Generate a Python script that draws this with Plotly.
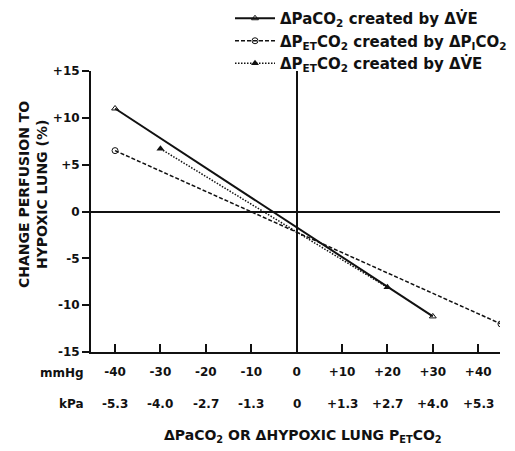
import plotly.graph_objects as go

# Data
paco2_ve_x = [-40, 30]
paco2_ve_y = [11.0, -11.2]
petco2_pico2_x = [-40, 45]
petco2_pico2_y = [6.5, -12.0]
petco2_ve_x = [-30, 20]
petco2_ve_y = [6.7, -8.1]

mmhg_ticks = [-40, -30, -20, -10, 0, 10, 20, 30, 40]
mmhg_labels = ["-40", "-30", "-20", "-10", "0", "+10", "+20", "+30", "+40"]
kpa_labels = ["-5.3", "-4.0", "-2.7", "-1.3", "0", "+1.3", "+2.7", "+4.0", "+5.3"]
y_ticks = [-15, -10, -5, 0, 5, 10, 15]
y_labels = ["-15", "-10", "-5", "0", "+5", "+10", "+15"]

FONT = "DejaVu Sans"
BLK = "#111111"


def f(size):
    return dict(family=FONT, size=size, color=BLK, weight="bold")


fig = go.Figure()
fig.add_trace(go.Scatter(
    x=paco2_ve_x, y=paco2_ve_y, mode="lines+markers",
    name="ΔPaCO<sub>2</sub> created by ΔV̇E",
    line=dict(color=BLK, width=2, dash="solid"),
    marker=dict(symbol="triangle-up-open", size=6, color=BLK, line=dict(width=1))))
fig.add_trace(go.Scatter(
    x=petco2_pico2_x, y=petco2_pico2_y, mode="lines+markers",
    name="ΔP<sub>ET</sub>CO<sub>2</sub> created by ΔP<sub>I</sub>CO<sub>2</sub>",
    line=dict(color=BLK, width=1.5, dash="4px,2px"),
    marker=dict(symbol="circle-open", size=6, color=BLK, line=dict(width=1))))
fig.add_trace(go.Scatter(
    x=petco2_ve_x, y=petco2_ve_y, mode="lines+markers",
    name="ΔP<sub>ET</sub>CO<sub>2</sub> created by ΔV̇E",
    line=dict(color=BLK, width=1.5, dash="1.5px,1.5px"),
    marker=dict(symbol="triangle-up", size=7, color=BLK)))

W, H = 515, 451
L, R, T, B = 91, 15, 71, 99
pw, ph = W - L - R, H - T - B


def px(xp):
    return (xp - L) / pw


def py(yp):
    return (H - B - yp) / ph


annotations = []
for xv, kl in zip(mmhg_ticks, kpa_labels):
    annotations.append(dict(x=xv, y=py(404), xref="x", yref="paper", text=kl, showarrow=False,
                            xanchor="center", yanchor="middle", font=f(12)))
annotations += [
    dict(x=px(86), y=py(373), xref="paper", yref="paper", text="mmHg", showarrow=False,
         xanchor="right", yanchor="middle", font=f(12)),
    dict(x=px(86), y=py(404), xref="paper", yref="paper", text="kPa", showarrow=False,
         xanchor="right", yanchor="middle", font=f(12)),
    dict(x=px(33), y=py(195), xref="paper", yref="paper",
         text="CHANGE PERFUSION TO<br>HYPOXIC LUNG (%)", textangle=-90, showarrow=False,
         xanchor="center", yanchor="middle", font=f(14)),
    dict(x=px(303), y=py(436), xref="paper", yref="paper",
         text="ΔPaCO<sub>2</sub> OR ΔHYPOXIC LUNG P<sub>ET</sub>CO<sub>2</sub>", showarrow=False,
         xanchor="center", yanchor="middle", font=f(14)),
]

fig.update_layout(
    width=W, height=H,
    margin=dict(l=L, r=R, t=T, b=B, pad=0, autoexpand=False),
    paper_bgcolor="white", plot_bgcolor="white",
    font=dict(family=FONT, size=13, color=BLK),
    showlegend=True,
    legend=dict(x=px(230), y=py(2), xanchor="left", yanchor="top",
                bgcolor="rgba(0,0,0,0)", tracegroupgap=0, itemwidth=40,
                font=f(15)),
    annotations=annotations,
    xaxis=dict(range=[-45.3, 44.8], tickvals=mmhg_ticks, ticktext=mmhg_labels,
               ticks="inside", ticklen=8, tickwidth=2, tickcolor=BLK,
               showline=True, linecolor=BLK, linewidth=2, mirror=False,
               showgrid=False, zeroline=True, zerolinecolor=BLK, zerolinewidth=2,
               tickfont=f(12), ticklabelstandoff=8, fixedrange=True),
    yaxis=dict(range=[-15, 15], tickvals=y_ticks, ticktext=y_labels,
               ticks="outside", ticklen=7, tickwidth=2, tickcolor=BLK,
               showline=True, linecolor=BLK, linewidth=2, mirror=False,
               showgrid=False, zeroline=True, zerolinecolor=BLK, zerolinewidth=2,
               tickfont=f(12), ticklabelstandoff=0, fixedrange=True),
)

fig.write_html("out.html")
